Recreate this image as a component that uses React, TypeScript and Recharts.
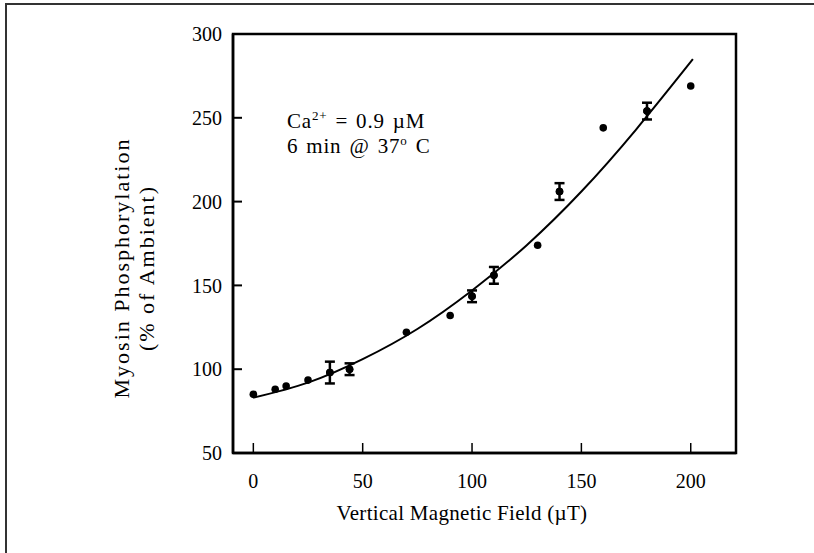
import React from "react";
import {
  ComposedChart,
  Scatter,
  Line,
  XAxis,
  YAxis,
  ErrorBar,
  ReferenceArea,
} from "recharts";

// measured points (field in µT, phosphorylation in % of ambient)
const fieldValues = [0, 10, 15, 25, 35, 44, 70, 90, 100, 110, 130, 140, 160, 180, 200];
const phosValues = [85, 88, 90, 93.5, 98, 100, 122, 132, 143.5, 156, 174, 206, 244, 254, 269];
const phosErrors = [null, null, null, null, 6.5, 3.5, null, null, 3.5, 5, null, 5, null, 5, null];

// fitted curve
const curveField = [0, 25, 50, 75, 100, 125, 150, 175, 201];
const curvePhos = [83, 92, 106, 124, 147, 174, 206, 243, 285];

const xTicks = [0, 50, 100, 150, 200];
const yTicks = [50, 100, 150, 200, 250, 300];

const X_DOMAIN: [number, number] = [-9.3, 220.7];
const Y_DOMAIN: [number, number] = [50, 300];

const FONT = "'Liberation Serif', 'Times New Roman', serif";

const points = fieldValues.map((x, i) => ({ x, y: phosValues[i] }));
const errPoints = fieldValues
  .map((x, i) => ({ x, y: phosValues[i], err: phosErrors[i] }))
  .filter((p) => p.err != null);
const curve = curveField.map((x, i) => ({ x, y: curvePhos[i] }));

const Dot = (props: any) => <circle cx={props.cx} cy={props.cy} r={3.8} fill="#000" />;

const tickStyle = { fill: "#000", fontFamily: FONT, fontSize: 20 };

export default function App() {
  return (
    <div style={{ position: "absolute", left: 0, top: 0, width: 814, height: 553, background: "#fff" }}>
      <div
        style={{
          position: "absolute",
          left: 5,
          top: 3,
          width: 809,
          height: 550,
          borderTop: "2px solid #333",
          borderLeft: "2px solid #333",
          boxSizing: "border-box",
        }}
      />
      <div style={{ position: "absolute", left: 0, top: 0 }}>
        <ComposedChart width={814} height={553} margin={{ top: 34, right: 78, left: 173, bottom: 40 }}>
          <XAxis
            type="number"
            dataKey="x"
            domain={X_DOMAIN}
            ticks={xTicks}
            allowDataOverflow
            height={60}
            axisLine={{ stroke: "#000", strokeWidth: 2.5 }}
            tickLine={{ stroke: "#000", strokeWidth: 1.5 }}
            tickSize={-10}
            tickMargin={31}
            tick={tickStyle}
          />
          <YAxis
            type="number"
            dataKey="y"
            domain={Y_DOMAIN}
            ticks={yTicks}
            allowDataOverflow
            width={60}
            axisLine={{ stroke: "#000", strokeWidth: 2.5 }}
            tickLine={{ stroke: "#000", strokeWidth: 2 }}
            tickSize={-9}
            tickMargin={20}
            tick={tickStyle}
          />
          <ReferenceArea
            x1={X_DOMAIN[0]}
            x2={X_DOMAIN[1]}
            y1={Y_DOMAIN[0]}
            y2={Y_DOMAIN[1]}
            fill="none"
            stroke="#000"
            strokeWidth={2.5}
            ifOverflow="visible"
          />
          <Line
            data={curve}
            dataKey="y"
            type="natural"
            stroke="#000"
            strokeWidth={2}
            dot={false}
            activeDot={false}
            isAnimationActive={false}
          />
          <Scatter data={points} dataKey="y" shape={Dot} isAnimationActive={false} />
          <Scatter data={errPoints} dataKey="y" shape={Dot} isAnimationActive={false}>
            <ErrorBar dataKey="err" direction="y" width={5} stroke="#000" strokeWidth={2.5} />
          </Scatter>
        </ComposedChart>
      </div>
      <svg
        width={814}
        height={553}
        style={{ position: "absolute", left: 0, top: 0, pointerEvents: "none" }}
        fontFamily={FONT}
        fill="#000"
      >
        <text x={287} y={128} fontSize={21} letterSpacing={0.8} wordSpacing={2}>
          Ca<tspan fontSize={13} dy={-8}>2+</tspan>
          <tspan dy={8}> = 0.9 µM</tspan>
        </text>
        <text x={287} y={153} fontSize={21} letterSpacing={0.8} wordSpacing={2}>
          6 min @ 37<tspan fontSize={13} dy={-8}>o</tspan>
          <tspan dy={8}> C</tspan>
        </text>
        <text x={462} y={520} fontSize={21} textAnchor="middle" letterSpacing={0.3}>
          Vertical Magnetic Field (µT)
        </text>
        <text
          transform="translate(129 268) rotate(-90)"
          fontSize={22}
          textAnchor="middle"
          letterSpacing={2}
        >
          Myosin Phosphorylation
        </text>
        <text
          transform="translate(154 268) rotate(-90)"
          fontSize={22}
          textAnchor="middle"
          letterSpacing={2}
        >
          (% of Ambient)
        </text>
      </svg>
    </div>
  );
}
